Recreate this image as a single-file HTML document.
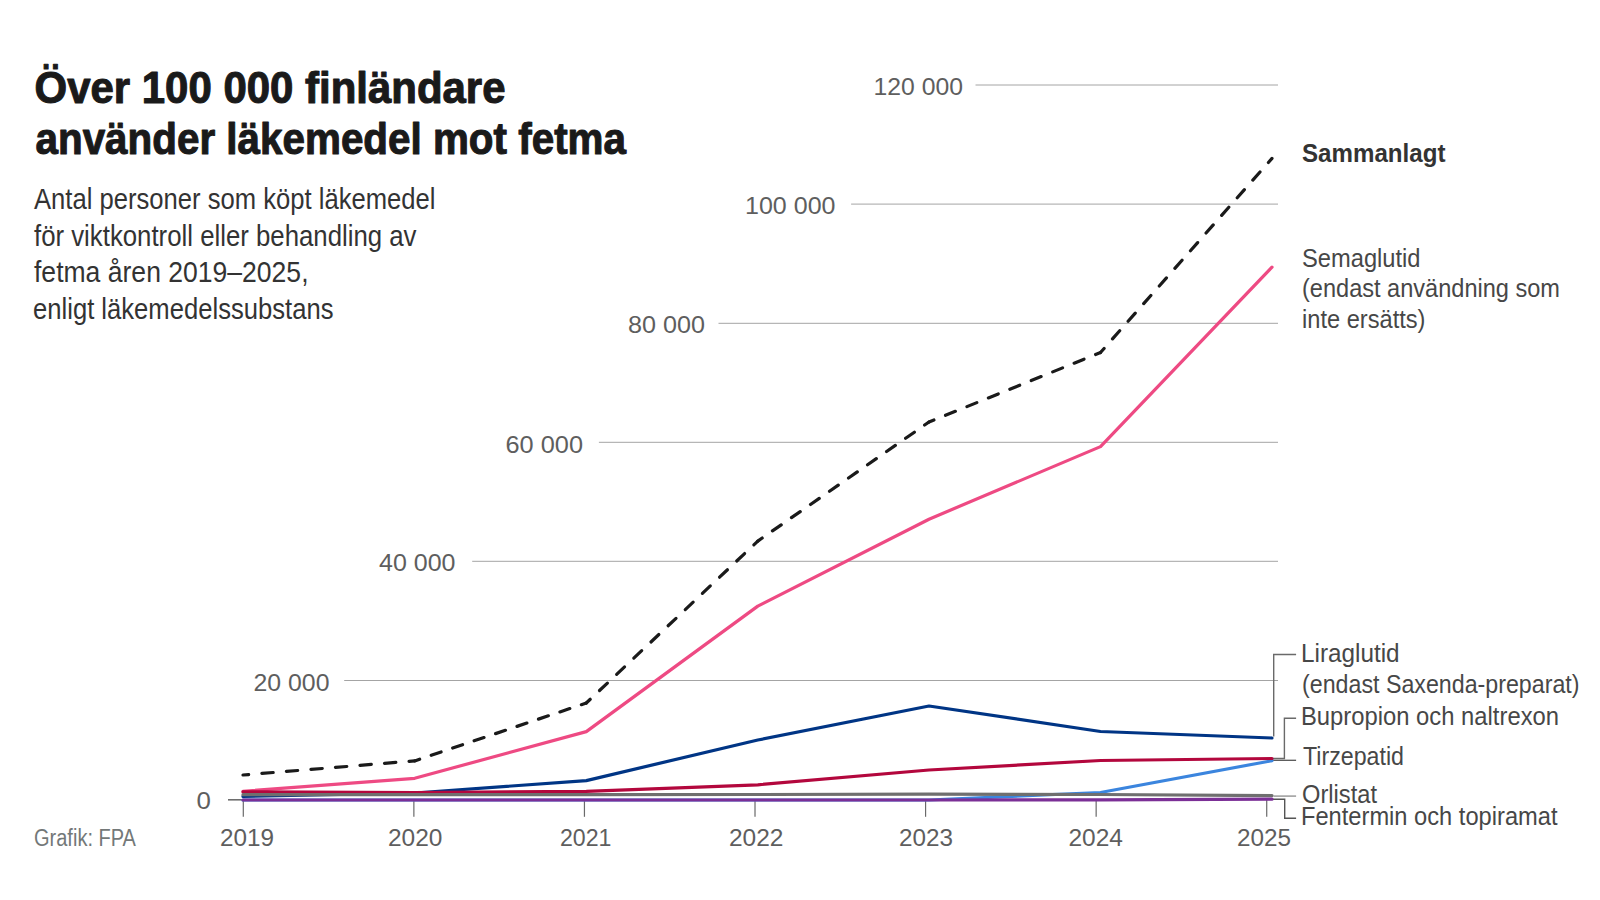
<!DOCTYPE html>
<html lang="sv"><head><meta charset="utf-8"><title>Över 100 000 finländare använder läkemedel mot fetma</title>
<style>
html,body{margin:0;padding:0;background:#fff;}
body{width:1600px;height:900px;overflow:hidden;}
svg{display:block;font-family:"Liberation Sans",sans-serif;}
</style></head><body>
<svg width="1600" height="900" viewBox="0 0 1600 900">
<rect width="1600" height="900" fill="#fff"/>
<line x1="975.5" y1="85" x2="1278" y2="85" stroke="#a4a4a4" stroke-width="1.0"/>
<line x1="851.1" y1="204.1" x2="1278" y2="204.1" stroke="#a4a4a4" stroke-width="1.0"/>
<line x1="718.5" y1="323.3" x2="1278" y2="323.3" stroke="#a4a4a4" stroke-width="1.0"/>
<line x1="598.9" y1="442.3" x2="1278" y2="442.3" stroke="#a4a4a4" stroke-width="1.0"/>
<line x1="472.2" y1="561.3" x2="1278" y2="561.3" stroke="#a4a4a4" stroke-width="1.0"/>
<line x1="344.2" y1="680.5" x2="1278" y2="680.5" stroke="#a4a4a4" stroke-width="1.0"/>
<line x1="228" y1="799.8" x2="243.3" y2="799.8" stroke="#6e6e6e" stroke-width="1.6"/>
<line x1="243.3" y1="799.8" x2="243.3" y2="816.8" stroke="#6a6a6a" stroke-width="1.2"/>
<line x1="413.87" y1="799.8" x2="413.87" y2="816.8" stroke="#6a6a6a" stroke-width="1.2"/>
<line x1="584.44" y1="799.8" x2="584.44" y2="816.8" stroke="#6a6a6a" stroke-width="1.2"/>
<line x1="755.01" y1="799.8" x2="755.01" y2="816.8" stroke="#6a6a6a" stroke-width="1.2"/>
<line x1="925.58" y1="799.8" x2="925.58" y2="816.8" stroke="#6a6a6a" stroke-width="1.2"/>
<line x1="1096.15" y1="799.8" x2="1096.15" y2="816.8" stroke="#6a6a6a" stroke-width="1.2"/>
<line x1="1266.72" y1="799.8" x2="1266.72" y2="816.8" stroke="#6a6a6a" stroke-width="1.2"/>
<polyline points="1273.7,736.5 1273.7,654.5 1296.1,654.5" fill="none" stroke="#6a6a6a" stroke-width="1.4" stroke-linejoin="miter"/>
<polyline points="1273,758.5 1284.4,758.5 1284.4,718.3 1296.1,718.3" fill="none" stroke="#6a6a6a" stroke-width="1.4" stroke-linejoin="miter"/>
<polyline points="1273,760.3 1296.1,760.3" fill="none" stroke="#555" stroke-width="1.3" stroke-linejoin="miter"/>
<polyline points="1273.5,796.1 1296.1,796.1" fill="none" stroke="#9a9a9a" stroke-width="1.5" stroke-linejoin="miter"/>
<polyline points="1273,799.3 1284.7,799.3 1284.7,818.3 1296.1,818.3" fill="none" stroke="#555" stroke-width="1.4" stroke-linejoin="miter"/>
<line x1="243" y1="775" x2="414.7" y2="760.9" stroke="#1a1a1a" stroke-width="3.2" stroke-linecap="round" stroke-dasharray="11.321 13.290" stroke-dashoffset="5.661"/>
<line x1="414.7" y1="760.9" x2="586.3" y2="703" stroke="#1a1a1a" stroke-width="3.2" stroke-linecap="round" stroke-dasharray="10.414 12.225" stroke-dashoffset="5.207"/>
<line x1="586.3" y1="703" x2="757.8" y2="541.1" stroke="#1a1a1a" stroke-width="3.2" stroke-linecap="round" stroke-dasharray="10.849 12.736" stroke-dashoffset="5.424"/>
<line x1="757.8" y1="541.1" x2="929" y2="422" stroke="#1a1a1a" stroke-width="3.2" stroke-linecap="round" stroke-dasharray="10.659 12.513" stroke-dashoffset="5.330"/>
<line x1="929" y1="422" x2="1100.5" y2="352.5" stroke="#1a1a1a" stroke-width="3.2" stroke-linecap="round" stroke-dasharray="10.640 12.491" stroke-dashoffset="5.320"/>
<line x1="1100.5" y1="352.5" x2="1272" y2="158.4" stroke="#1a1a1a" stroke-width="3.2" stroke-linecap="round" stroke-dasharray="10.831 12.715" stroke-dashoffset="5.416"/>
<polyline points="243.0,791.3 414.7,778.3 586.3,731.6 757.8,606.1 929.0,519.2 1100.5,446.6 1272.0,267.2" fill="none" stroke="#ee4a83" stroke-width="3.2" stroke-linecap="round" stroke-linejoin="round"/>
<polyline points="243.0,796.4 414.7,793.0 586.3,780.6 757.8,740.0 929.0,706.0 1100.5,731.5 1272.0,738.0" fill="none" stroke="#003585" stroke-width="3.2" stroke-linecap="round" stroke-linejoin="round"/>
<polyline points="243.0,800.0 414.7,800.0 586.3,800.0 757.8,800.0 929.0,800.0 1100.5,792.5 1272.0,760.7" fill="none" stroke="#3b85de" stroke-width="3.2" stroke-linecap="round" stroke-linejoin="round"/>
<polyline points="243.0,791.9 414.7,792.5 586.3,791.3 757.8,784.8 929.0,770.0 1100.5,760.5 1272.0,758.5" fill="none" stroke="#b3073d" stroke-width="3.2" stroke-linecap="round" stroke-linejoin="round"/>
<polyline points="243.0,794.7 414.7,794.6 586.3,794.6 757.8,794.5 929.0,794.2 1100.5,794.5 1272.0,795.6" fill="none" stroke="#6f6f6f" stroke-width="3.2" stroke-linecap="round" stroke-linejoin="round"/>
<polyline points="243.0,800.0 414.7,800.0 586.3,800.0 757.8,800.0 929.0,800.0 1100.5,799.8 1272.0,799.2" fill="none" stroke="#7b2f96" stroke-width="3.2" stroke-linecap="round" stroke-linejoin="round"/>
<text x="34.5" y="102.8" font-size="45" font-weight="700" fill="#1a1a1a" stroke="#1a1a1a" stroke-width="1.1" stroke-linejoin="round" textLength="471.0" lengthAdjust="spacingAndGlyphs">Över 100 000 finländare</text>
<text x="35.5" y="153.5" font-size="45" font-weight="700" fill="#1a1a1a" stroke="#1a1a1a" stroke-width="1.1" stroke-linejoin="round" textLength="590.5" lengthAdjust="spacingAndGlyphs">använder läkemedel mot fetma</text>
<text x="34.0" y="208.9" font-size="29.5" font-weight="400" fill="#333" textLength="401.49" lengthAdjust="spacingAndGlyphs">Antal personer som köpt läkemedel</text>
<text x="34.0" y="246.0" font-size="29.5" font-weight="400" fill="#333" textLength="382.5" lengthAdjust="spacingAndGlyphs">för viktkontroll eller behandling av</text>
<text x="34.0" y="282.3" font-size="29.5" font-weight="400" fill="#333" textLength="274.51" lengthAdjust="spacingAndGlyphs">fetma åren 2019–2025,</text>
<text x="33.0" y="318.9" font-size="29.5" font-weight="400" fill="#333" textLength="300.49" lengthAdjust="spacingAndGlyphs">enligt läkemedelssubstans</text>
<text x="1302.0" y="161.5" font-size="26" font-weight="700" fill="#333" textLength="143.5" lengthAdjust="spacingAndGlyphs">Sammanlagt</text>
<text x="1302.0" y="266.5" font-size="26" font-weight="400" fill="#474747" textLength="118.52" lengthAdjust="spacingAndGlyphs">Semaglutid</text>
<text x="1302.0" y="297.3" font-size="26" font-weight="400" fill="#474747" textLength="258.0" lengthAdjust="spacingAndGlyphs">(endast användning som</text>
<text x="1302.0" y="328.3" font-size="26" font-weight="400" fill="#474747" textLength="123.49" lengthAdjust="spacingAndGlyphs">inte ersätts)</text>
<text x="1301.0" y="661.7" font-size="26" font-weight="400" fill="#474747" textLength="98.54" lengthAdjust="spacingAndGlyphs">Liraglutid</text>
<text x="1302.0" y="693.2" font-size="26" font-weight="400" fill="#474747" textLength="277.5" lengthAdjust="spacingAndGlyphs">(endast Saxenda-preparat)</text>
<text x="1301.0" y="725.4" font-size="26" font-weight="400" fill="#474747" textLength="258.03" lengthAdjust="spacingAndGlyphs">Bupropion och naltrexon</text>
<text x="1303.0" y="765.0" font-size="26" font-weight="400" fill="#474747" textLength="100.98" lengthAdjust="spacingAndGlyphs">Tirzepatid</text>
<text x="1302.0" y="802.8" font-size="26" font-weight="400" fill="#474747" textLength="74.98" lengthAdjust="spacingAndGlyphs">Orlistat</text>
<text x="1301.0" y="825.4" font-size="26" font-weight="400" fill="#474747" textLength="256.5" lengthAdjust="spacingAndGlyphs">Fentermin och topiramat</text>
<text x="34.0" y="846.0" font-size="23" font-weight="400" fill="#737878" textLength="101.97" lengthAdjust="spacingAndGlyphs">Grafik: FPA</text>
<text x="873.5" y="94.8" font-size="24" font-weight="400" fill="#5e5e5e" textLength="89.51" lengthAdjust="spacingAndGlyphs">120 000</text>
<text x="745.0" y="213.6" font-size="24" font-weight="400" fill="#5e5e5e" textLength="90.49" lengthAdjust="spacingAndGlyphs">100 000</text>
<text x="628.0" y="332.6" font-size="24" font-weight="400" fill="#5e5e5e" textLength="76.99" lengthAdjust="spacingAndGlyphs">80 000</text>
<text x="505.5" y="453.4" font-size="24" font-weight="400" fill="#5e5e5e" textLength="77.5" lengthAdjust="spacingAndGlyphs">60 000</text>
<text x="379.0" y="570.6" font-size="24" font-weight="400" fill="#5e5e5e" textLength="76.47" lengthAdjust="spacingAndGlyphs">40 000</text>
<text x="253.5" y="690.7" font-size="24" font-weight="400" fill="#5e5e5e" textLength="75.97" lengthAdjust="spacingAndGlyphs">20 000</text>
<text x="196.5" y="809.4" font-size="24" font-weight="400" fill="#5e5e5e" textLength="14.39" lengthAdjust="spacingAndGlyphs">0</text>
<text x="220.0" y="846.2" font-size="24" font-weight="400" fill="#5e5e5e" textLength="53.97" lengthAdjust="spacingAndGlyphs">2019</text>
<text x="388.0" y="846.2" font-size="24" font-weight="400" fill="#5e5e5e" textLength="54.46" lengthAdjust="spacingAndGlyphs">2020</text>
<text x="560.0" y="846.2" font-size="24" font-weight="400" fill="#5e5e5e" textLength="51.49" lengthAdjust="spacingAndGlyphs">2021</text>
<text x="729.0" y="846.2" font-size="24" font-weight="400" fill="#5e5e5e" textLength="54.49" lengthAdjust="spacingAndGlyphs">2022</text>
<text x="899.0" y="846.2" font-size="24" font-weight="400" fill="#5e5e5e" textLength="53.96" lengthAdjust="spacingAndGlyphs">2023</text>
<text x="1068.5" y="846.2" font-size="24" font-weight="400" fill="#5e5e5e" textLength="54.48" lengthAdjust="spacingAndGlyphs">2024</text>
<text x="1237.0" y="846.2" font-size="24" font-weight="400" fill="#5e5e5e" textLength="54.0" lengthAdjust="spacingAndGlyphs">2025</text>
</svg>
</body></html>
